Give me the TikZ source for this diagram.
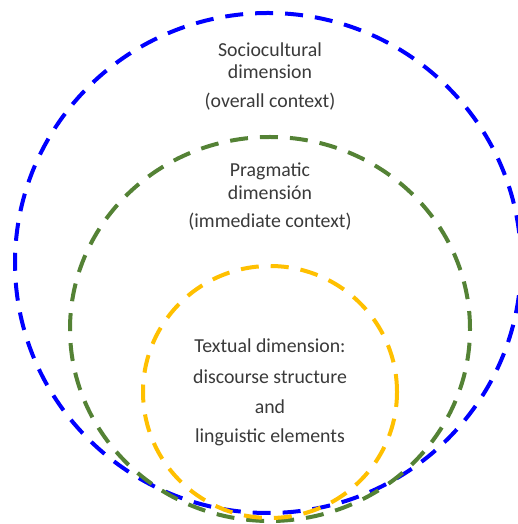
\documentclass[tikz,border=0pt]{standalone}
\usepackage{fontspec}
\setmainfont{Carlito}
\definecolor{cblue}{HTML}{0000FF}
\definecolor{cgreen}{HTML}{548235}
\definecolor{cyellow}{HTML}{FFC000}
\definecolor{ctext}{HTML}{3A3A3A}
\begin{document}
\begin{tikzpicture}[x=1pt,y=1pt,
  ring/.style={line width=4pt, dash pattern=on 18pt off 12pt},
  lbl/.style={text=ctext, font=\fontsize{19.8}{23}\selectfont, inner sep=0pt, anchor=center}]
\useasboundingbox (0,0) rectangle (518,524);
\clip (0,0) rectangle (518,524);
\fill[white] (0,0) rectangle (518,524);
\draw[ring, cblue] (268,261) ellipse [x radius=253, y radius=250];
\draw[ring, cgreen] (270,195) ellipse [x radius=200, y radius=192];
\draw[ring, cyellow] (270,132) ellipse [x radius=127, y radius=126];
\node[lbl] (s1) at (270,474) {Sociocultural};
\node[lbl] (s2) at (270,452) {dimension};
\node[lbl] (s3) at (270,422) {(overall context)};
\node[lbl] (p1) at (270,353) {Pragmatic};
\node[lbl] (p2) at (270,331) {dimensión};
\node[lbl] (p3) at (270,302) {(immediate context)};
\node[lbl] (t1) at (270,178) {Textual dimension:};
\node[lbl] (t2) at (270,147) {discourse structure};
\node[lbl] (t3) at (270,117) {and};
\node[lbl] (t4) at (270,87) {linguistic elements};
\end{tikzpicture}
\end{document}
